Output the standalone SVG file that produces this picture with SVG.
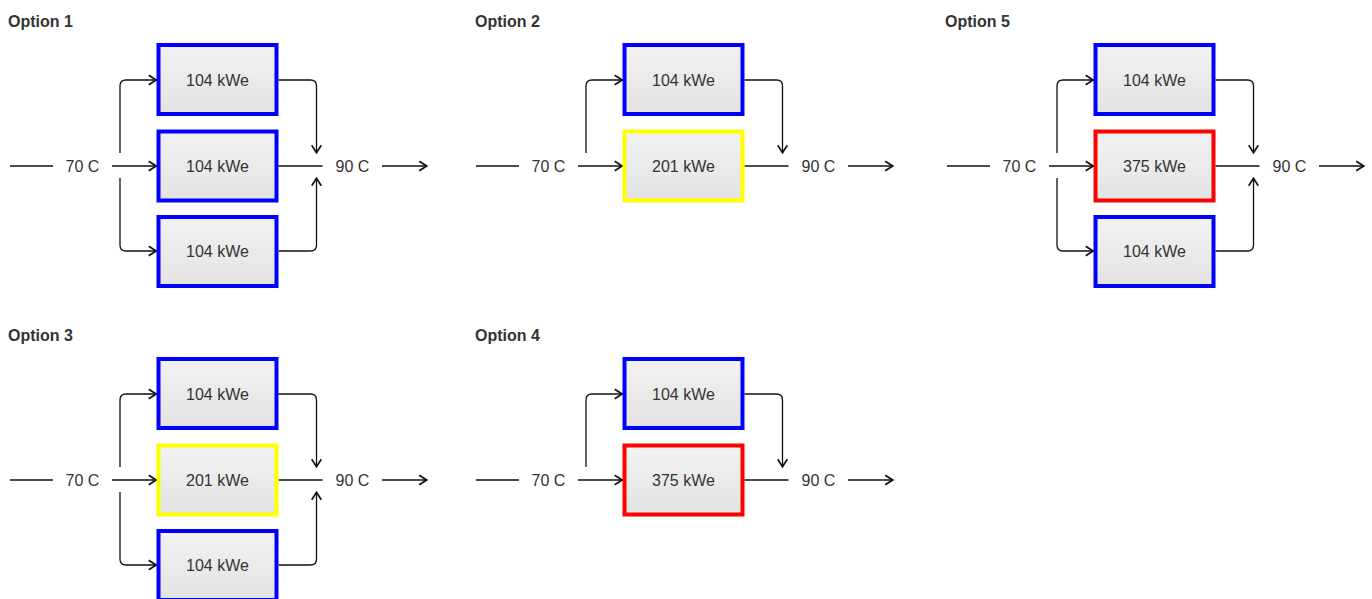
<svg xmlns="http://www.w3.org/2000/svg" width="1372" height="599" viewBox="0 0 1372 599">
<style>
.t{font-family:"Liberation Sans",Arial,sans-serif;font-size:16px;fill:#333;text-anchor:middle}
.h{font-family:"Liberation Sans",Arial,sans-serif;font-size:16px;font-weight:bold;fill:#333}
.b{fill:url(#g);stroke-width:4}
.blue{stroke:#0000ff}.yel{stroke:#ffff00}.red{stroke:#ff0000}
.c{fill:none;stroke:#111;stroke-width:1.3}
.a{marker-end:url(#arr)}
</style>
<defs>
<linearGradient id="g" x1="0" y1="0" x2="0" y2="1"><stop offset="0" stop-color="#f2f2f2"/><stop offset="1" stop-color="#e3e3e3"/></linearGradient>
<marker id="arr" markerUnits="userSpaceOnUse" viewBox="0 0 10 12" refX="9.3" refY="6" markerWidth="10" markerHeight="12" orient="auto">
<path d="M1.5,1.2 L9,6 L1.5,10.8" fill="none" stroke="#111" stroke-width="1.7" stroke-linejoin="miter"/>
</marker>
</defs>
<rect width="1372" height="599" fill="#fff"/>

<!-- Option 1 -->
<g id="option1">
<text class="h" x="8" y="27">Option 1</text>
<g id="o1-connectors">
<path class="c" d="M10,166 H53"/>
<path class="c a" d="M112,166 H156.5"/>
<path class="c a" d="M120,153 V86 Q120,80 126,80 H156.5"/>
<path class="c a" d="M120,178 V245 Q120,251 126,251 H156.5"/>
<path class="c a" d="M278.5,80 H310.5 Q316.5,80 316.5,86 V153"/>
<path class="c" d="M278.5,166 H322.5"/>
<path class="c a" d="M278.5,251 H310.5 Q316.5,251 316.5,245 V178"/>
<path class="c a" d="M382,166 H427"/>
</g>
<g id="o1-in"><text class="t" x="82.5" y="171.5">70 C</text></g>
<g id="o1-out"><text class="t" x="352.5" y="171.5">90 C</text></g>
<g id="o1-n1"><rect class="b blue" x="158.5" y="45" width="118" height="69"/><text class="t" x="217.5" y="85.5">104 kWe</text></g>
<g id="o1-n2"><rect class="b blue" x="158.5" y="131.5" width="118" height="69"/><text class="t" x="217.5" y="171.5">104 kWe</text></g>
<g id="o1-n3"><rect class="b blue" x="158.5" y="217" width="118" height="69"/><text class="t" x="217.5" y="257">104 kWe</text></g>
</g>

<!-- Option 2 -->
<g id="option2" transform="translate(466,0)">
<text class="h" x="9" y="27">Option 2</text>
<g id="o2-connectors">
<path class="c" d="M10,166 H53"/>
<path class="c a" d="M112,166 H156.5"/>
<path class="c a" d="M120,153 V86 Q120,80 126,80 H156.5"/>
<path class="c a" d="M278.5,80 H310.5 Q316.5,80 316.5,86 V153"/>
<path class="c" d="M278.5,166 H322.5"/>
<path class="c a" d="M382,166 H427"/>
</g>
<g id="o2-in"><text class="t" x="82.5" y="171.5">70 C</text></g>
<g id="o2-out"><text class="t" x="352.5" y="171.5">90 C</text></g>
<g id="o2-n1"><rect class="b blue" x="158.5" y="45" width="118" height="69"/><text class="t" x="217.5" y="85.5">104 kWe</text></g>
<g id="o2-n2"><rect class="b yel" x="158.5" y="131.5" width="118" height="69"/><text class="t" x="217.5" y="171.5">201 kWe</text></g>
</g>

<!-- Option 5 -->
<g id="option5" transform="translate(937,0)">
<text class="h" x="8" y="27">Option 5</text>
<g id="o5-connectors">
<path class="c" d="M10,166 H53"/>
<path class="c a" d="M112,166 H156.5"/>
<path class="c a" d="M120,153 V86 Q120,80 126,80 H156.5"/>
<path class="c a" d="M120,178 V245 Q120,251 126,251 H156.5"/>
<path class="c a" d="M278.5,80 H310.5 Q316.5,80 316.5,86 V153"/>
<path class="c" d="M278.5,166 H322.5"/>
<path class="c a" d="M278.5,251 H310.5 Q316.5,251 316.5,245 V178"/>
<path class="c a" d="M382,166 H427"/>
</g>
<g id="o5-in"><text class="t" x="82.5" y="171.5">70 C</text></g>
<g id="o5-out"><text class="t" x="352.5" y="171.5">90 C</text></g>
<g id="o5-n1"><rect class="b blue" x="158.5" y="45" width="118" height="69"/><text class="t" x="217.5" y="85.5">104 kWe</text></g>
<g id="o5-n2"><rect class="b red" x="158.5" y="131.5" width="118" height="69"/><text class="t" x="217.5" y="171.5">375 kWe</text></g>
<g id="o5-n3"><rect class="b blue" x="158.5" y="217" width="118" height="69"/><text class="t" x="217.5" y="257">104 kWe</text></g>
</g>

<!-- Option 3 -->
<g id="option3" transform="translate(0,314)">
<text class="h" x="8" y="27">Option 3</text>
<g id="o3-connectors">
<path class="c" d="M10,166 H53"/>
<path class="c a" d="M112,166 H156.5"/>
<path class="c a" d="M120,153 V86 Q120,80 126,80 H156.5"/>
<path class="c a" d="M120,178 V245 Q120,251 126,251 H156.5"/>
<path class="c a" d="M278.5,80 H310.5 Q316.5,80 316.5,86 V153"/>
<path class="c" d="M278.5,166 H322.5"/>
<path class="c a" d="M278.5,251 H310.5 Q316.5,251 316.5,245 V178"/>
<path class="c a" d="M382,166 H427"/>
</g>
<g id="o3-in"><text class="t" x="82.5" y="171.5">70 C</text></g>
<g id="o3-out"><text class="t" x="352.5" y="171.5">90 C</text></g>
<g id="o3-n1"><rect class="b blue" x="158.5" y="45" width="118" height="69"/><text class="t" x="217.5" y="85.5">104 kWe</text></g>
<g id="o3-n2"><rect class="b yel" x="158.5" y="131.5" width="118" height="69"/><text class="t" x="217.5" y="171.5">201 kWe</text></g>
<g id="o3-n3"><rect class="b blue" x="158.5" y="217" width="118" height="69"/><text class="t" x="217.5" y="257">104 kWe</text></g>
</g>

<!-- Option 4 -->
<g id="option4" transform="translate(466,314)">
<text class="h" x="9" y="27">Option 4</text>
<g id="o4-connectors">
<path class="c" d="M10,166 H53"/>
<path class="c a" d="M112,166 H156.5"/>
<path class="c a" d="M120,153 V86 Q120,80 126,80 H156.5"/>
<path class="c a" d="M278.5,80 H310.5 Q316.5,80 316.5,86 V153"/>
<path class="c" d="M278.5,166 H322.5"/>
<path class="c a" d="M382,166 H427"/>
</g>
<g id="o4-in"><text class="t" x="82.5" y="171.5">70 C</text></g>
<g id="o4-out"><text class="t" x="352.5" y="171.5">90 C</text></g>
<g id="o4-n1"><rect class="b blue" x="158.5" y="45" width="118" height="69"/><text class="t" x="217.5" y="85.5">104 kWe</text></g>
<g id="o4-n2"><rect class="b red" x="158.5" y="131.5" width="118" height="69"/><text class="t" x="217.5" y="171.5">375 kWe</text></g>
</g>
</svg>
